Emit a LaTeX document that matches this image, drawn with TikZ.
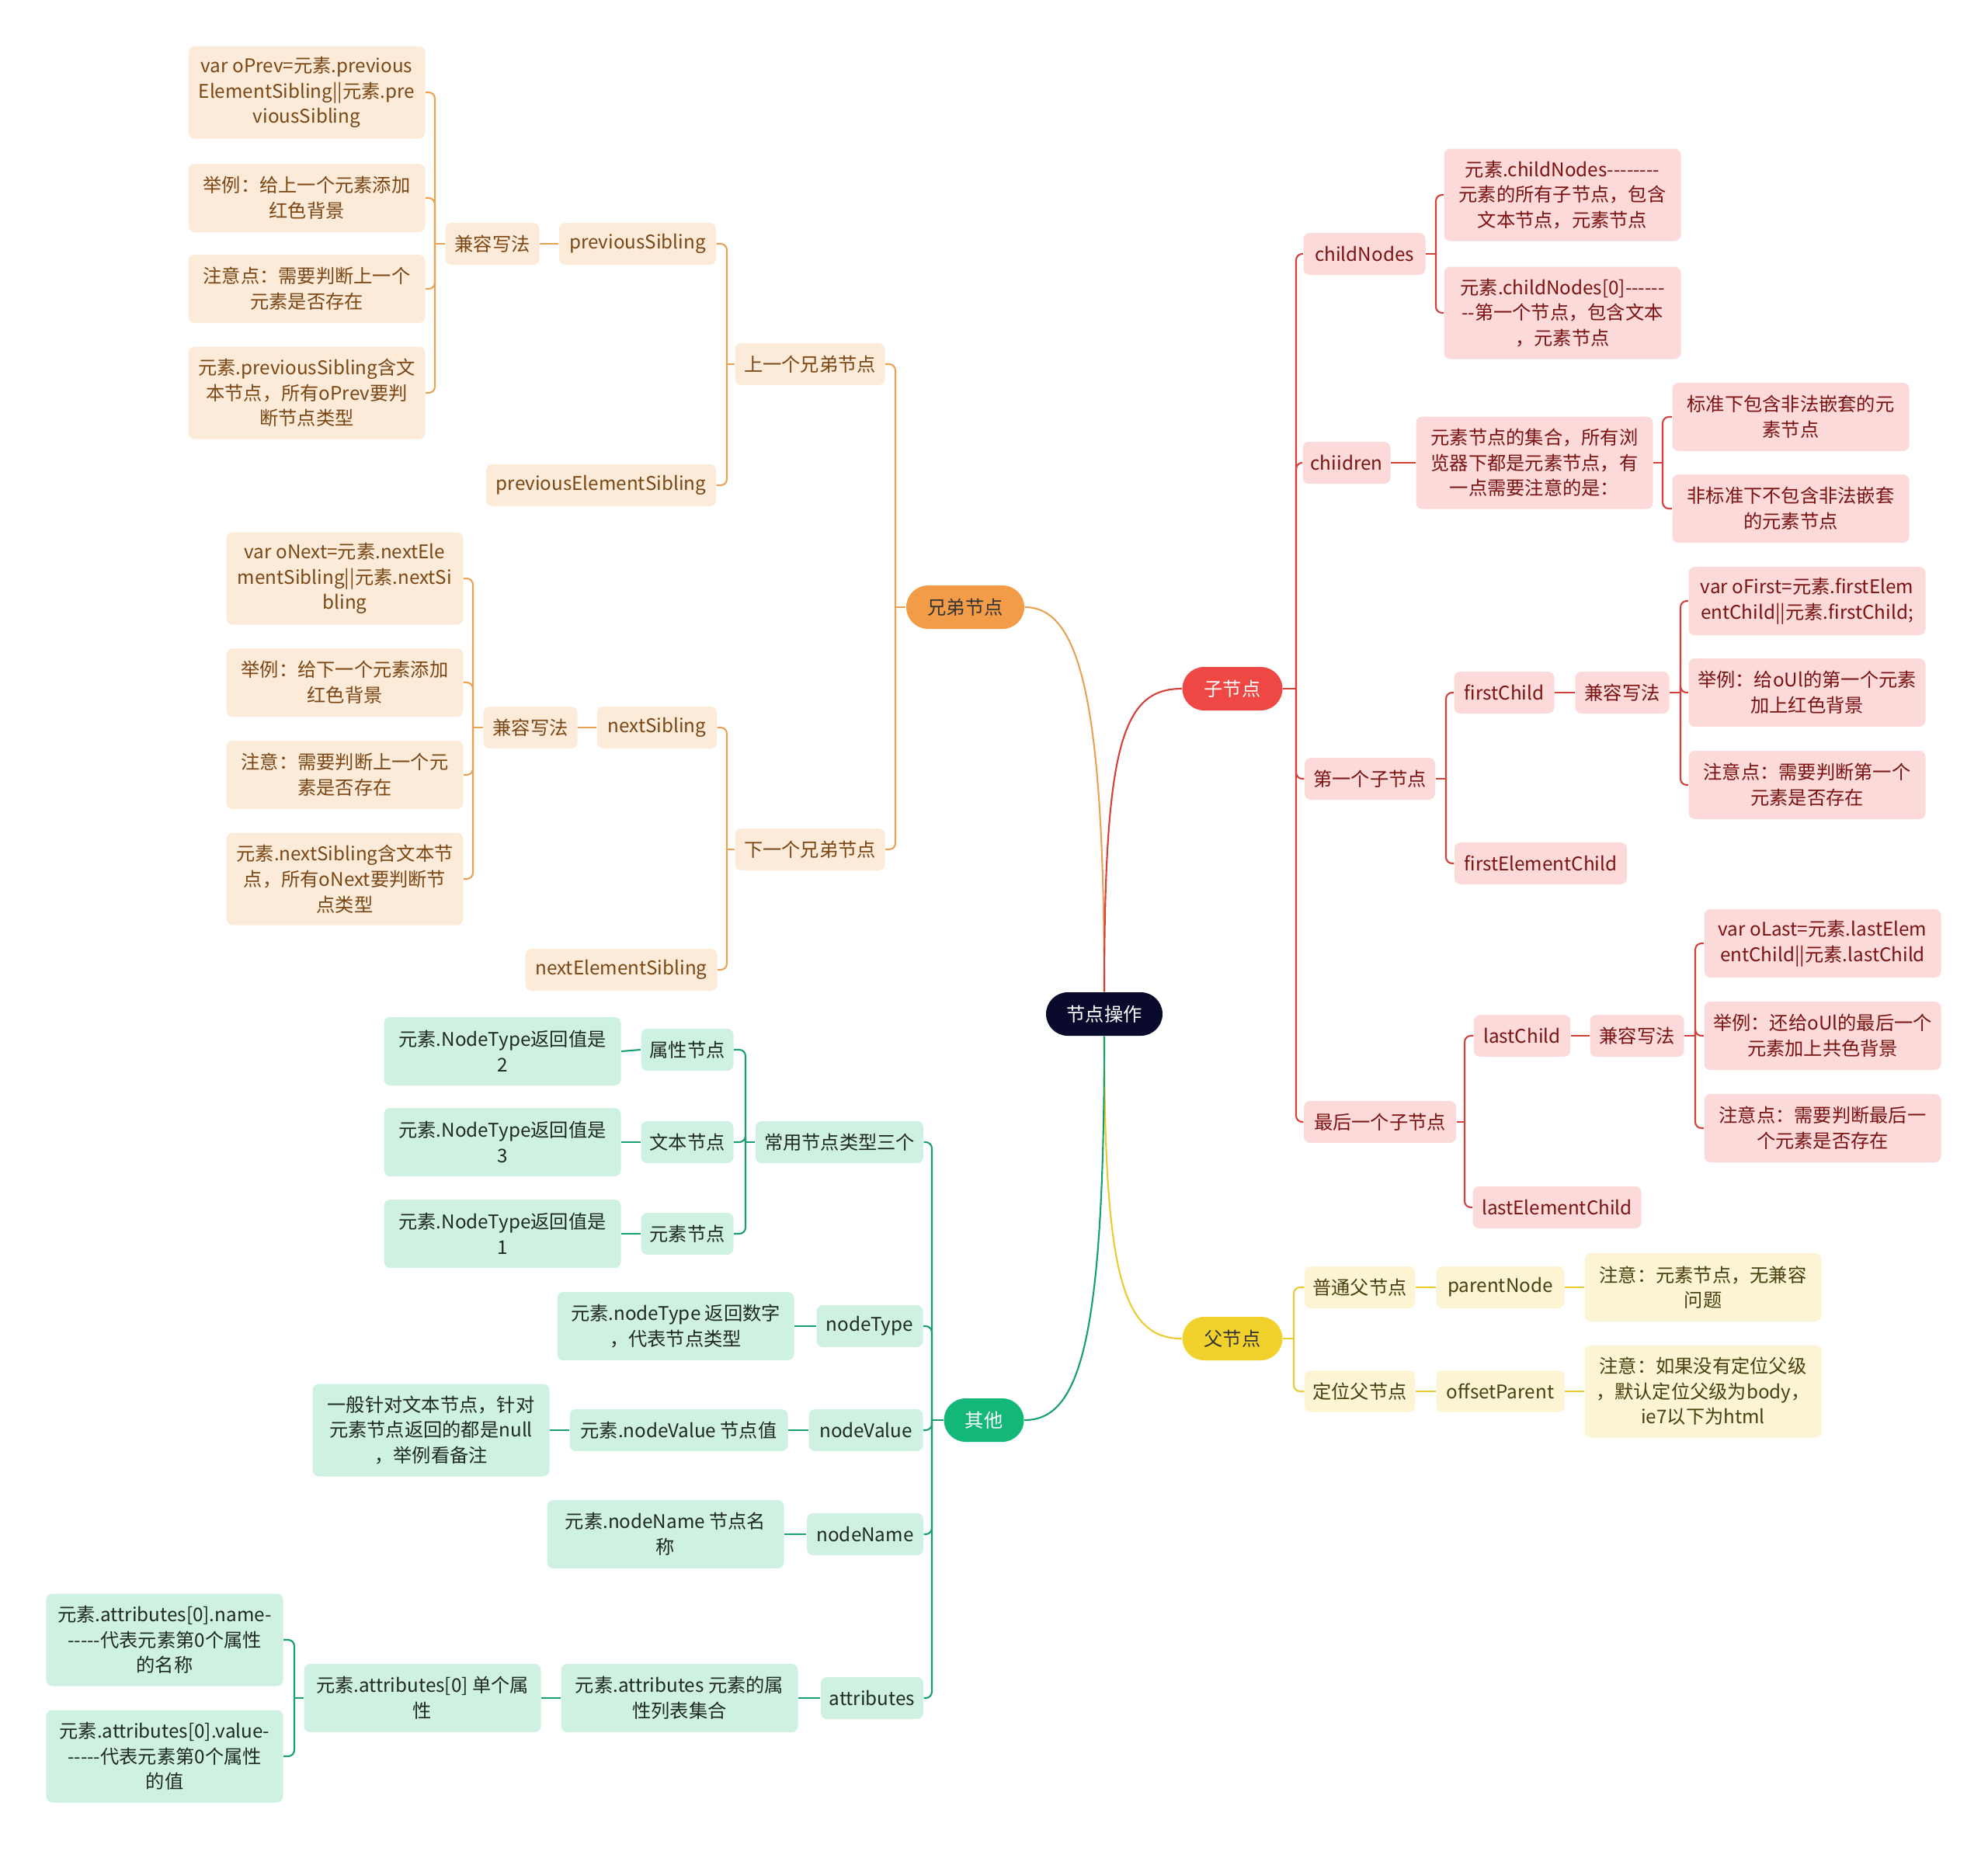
\documentclass[tikz,border=0pt]{standalone}
\usepackage{fontspec}
\setmainfont{Noto Sans CJK SC}[Ligatures=TeXOff]
\usepackage{xcolor}
\usepackage{tikz}

\definecolor{oLine}{HTML}{E9A254}
\definecolor{oFill}{HTML}{FDEBDA}
\definecolor{oText}{HTML}{7A4614}
\definecolor{oMain}{HTML}{F29C47}
\definecolor{rLine}{HTML}{D4413B}
\definecolor{rFill}{HTML}{FCDADA}
\definecolor{rText}{HTML}{7A1212}
\definecolor{rMain}{HTML}{EF4743}
\definecolor{yLine}{HTML}{EBCB30}
\definecolor{yFill}{HTML}{FCF4D3}
\definecolor{yText}{HTML}{4A3F0E}
\definecolor{yMain}{HTML}{F1D12B}
\definecolor{gLine}{HTML}{17A06E}
\definecolor{gFill}{HTML}{CEF1E1}
\definecolor{gText}{HTML}{1F2924}
\definecolor{gMain}{HTML}{13B777}
\definecolor{rootFill}{HTML}{0A0A2D}

\begin{document}
\begin{tikzpicture}[x=1cm, y=-1cm,
  box/.style={rectangle, rounded corners=0.08cm, align=center, inner xsep=2pt,
              inner ysep=0pt, minimum height=0.54cm,
              font=\fontsize{6.9}{9.3}\selectfont},
  two/.style={minimum height=0.88cm},
  three/.style={minimum height=1.19cm},
  wide/.style={minimum width=3.05cm},
  pill/.style={rectangle, rounded corners=0.28cm, minimum height=0.56cm,
               font=\fontsize{6.9}{9.3}\selectfont},
  obox/.style={box, fill=oFill, text=oText},
  rbox/.style={box, fill=rFill, text=rText},
  ybox/.style={box, fill=yFill, text=yText},
  gbox/.style={box, fill=gFill, text=gText},
  oline/.style={draw=oLine, line width=0.6pt, rounded corners=0.08cm},
  rline/.style={draw=rLine, line width=0.6pt, rounded corners=0.08cm},
  yline/.style={draw=yLine, line width=0.6pt, rounded corners=0.08cm},
  gline/.style={draw=gLine, line width=0.6pt, rounded corners=0.08cm}
]
  \useasboundingbox (0,0) rectangle (25.6,23.84);

  % Root and main branches
  \node[pill, fill=rootFill, text=white, minimum width=1.50cm] (root) at (14.22,13.06) {节点操作};
  \node[pill, fill=oMain, text=black!80, minimum width=1.52cm] (xd) at (12.43,7.82) {兄弟节点};
  \node[pill, fill=rMain, text=white, minimum width=1.29cm] (zi) at (15.87,8.87) {子节点};
  \node[pill, fill=yMain, text=black!80, minimum width=1.29cm] (fu) at (15.87,17.24) {父节点};
  \node[pill, fill=gMain, text=white, minimum width=1.03cm] (qt) at (12.67,18.29) {其他};

  \draw[oLine, line width=0.6pt] (root.north) .. controls (14.22,9.0) and (13.9,7.82) .. (xd.east);
  \draw[rLine, line width=0.6pt] (root.north) .. controls (14.22,9.6) and (14.45,8.87) .. (zi.west);
  \draw[yLine, line width=0.6pt] (root.south) .. controls (14.22,16.4) and (14.45,17.24) .. (fu.west);
  \draw[gLine, line width=0.6pt] (root.south) .. controls (14.22,17.3) and (13.9,18.29) .. (qt.east);

  % Brother nodes (orange)
  \node[obox, minimum width=1.93cm] (prev) at (10.43,4.69) {上一个兄弟节点};
  \node[obox, minimum width=1.93cm] (next) at (10.43,10.94) {下一个兄弟节点};
  \coordinate (xdbar) at (11.53,7.82);
  \draw[oline] (xd.west) -- (xdbar);
  \foreach \c in {prev, next}
    \draw[oline] (xdbar) |- (\c.east);

  \node[obox, minimum width=2.02cm] (psib) at (8.21,3.14) {previousSibling};
  \node[obox, minimum width=2.96cm] (pelem) at (7.74,6.25) {previousElementSibling};
  \coordinate (prevbar) at (9.36,4.69);
  \draw[oline] (prev.west) -- (prevbar);
  \foreach \c in {psib, pelem}
    \draw[oline] (prevbar) |- (\c.east);

  \node[obox, minimum width=1.21cm] (pcompat) at (6.34,3.14) {兼容写法};
  \draw[oline] (psib.west) -- (pcompat.east);
  \node[obox, wide, three] (pcode) at (3.95,1.19) {var oPrev=元素.previous\\ElementSibling||元素.pre\\viousSibling};
  \node[obox, wide, two] (pdemo) at (3.95,2.55) {举例：给上一个元素添加\\红色背景};
  \node[obox, wide, two] (pnote) at (3.95,3.72) {注意点：需要判断上一个\\元素是否存在};
  \node[obox, wide, three] (ptext) at (3.95,5.06) {元素.previousSibling含文\\本节点，所有oPrev要判\\断节点类型};
  \coordinate (pcbar) at (5.60,3.14);
  \draw[oline] (pcompat.west) -- (pcbar);
  \foreach \c in {pcode, pdemo, pnote, ptext}
    \draw[oline] (pcbar) |- (\c.east);

  \node[obox, minimum width=1.54cm] (nsib) at (8.46,9.37) {nextSibling};
  \node[obox, minimum width=2.47cm] (nelem) at (8.00,12.49) {nextElementSibling};
  \coordinate (nextbar) at (9.36,10.94);
  \draw[oline] (next.west) -- (nextbar);
  \foreach \c in {nsib, nelem}
    \draw[oline] (nextbar) |- (\c.east);

  \node[obox, minimum width=1.21cm] (ncompat) at (6.83,9.37) {兼容写法};
  \draw[oline] (nsib.west) -- (ncompat.east);
  \node[obox, wide, three] (ncode) at (4.44,7.45) {var oNext=元素.nextEle\\mentSibling||元素.nextSi\\bling};
  \node[obox, wide, two] (ndemo) at (4.44,8.79) {举例：给下一个元素添加\\红色背景};
  \node[obox, wide, two] (nnote) at (4.44,9.98) {注意：需要判断上一个元\\素是否存在};
  \node[obox, wide, three] (ntext) at (4.44,11.32) {元素.nextSibling含文本节\\点，所有oNext要判断节\\点类型};
  \coordinate (ncbar) at (6.09,9.37);
  \draw[oline] (ncompat.west) -- (ncbar);
  \foreach \c in {ncode, ndemo, nnote, ntext}
    \draw[oline] (ncbar) |- (\c.east);

  % Child nodes (red)
  \node[rbox, minimum width=1.57cm] (cnodes) at (17.57,3.27) {childNodes};
  \node[rbox, minimum width=1.13cm] (cdren) at (17.34,5.96) {chiidren};
  \node[rbox, minimum width=1.68cm] (cfirst) at (17.64,10.03) {第一个子节点};
  \node[rbox, minimum width=1.96cm] (clast) at (17.77,14.45) {最后一个子节点};
  \coordinate (zibar) at (16.69,8.87);
  \draw[rline] (zi.east) -- (zibar);
  \foreach \c in {cnodes, cdren, cfirst, clast}
    \draw[rline] (zibar) |- (\c.west);

  \node[rbox, wide, three] (cnall) at (20.12,2.51) {元素.childNodes--------\\元素的所有子节点，包含\\文本节点，元素节点};
  \node[rbox, wide, three] (cnzero) at (20.12,4.03) {元素.childNodes[0]------\\--第一个节点，包含文本\\，元素节点};
  \coordinate (cnbar) at (18.49,3.27);
  \draw[rline] (cnodes.east) -- (cnbar);
  \foreach \c in {cnall, cnzero}
    \draw[rline] (cnbar) |- (\c.west);

  \node[rbox, wide, three] (cdset) at (19.76,5.96) {元素节点的集合，所有浏\\览器下都是元素节点，有\\一点需要注意的是：};
  \draw[rline] (cdren.east) -- (cdset.west);
  \node[rbox, wide, two] (cdstd) at (23.06,5.37) {标准下包含非法嵌套的元\\素节点};
  \node[rbox, wide, two] (cdnon) at (23.06,6.55) {非标准下不包含非法嵌套\\的元素节点};
  \coordinate (cdbar) at (21.41,5.96);
  \draw[rline] (cdset.east) -- (cdbar);
  \foreach \c in {cdstd, cdnon}
    \draw[rline] (cdbar) |- (\c.west);

  \node[rbox, minimum width=1.29cm] (fchild) at (19.37,8.92) {firstChild};
  \node[rbox, minimum width=2.22cm] (felem) at (19.84,11.12) {firstElementChild};
  \coordinate (cfbar) at (18.62,10.03);
  \draw[rline] (cfirst.east) -- (cfbar);
  \foreach \c in {fchild, felem}
    \draw[rline] (cfbar) |- (\c.west);

  \node[rbox, minimum width=1.21cm] (fcompat) at (20.89,8.92) {兼容写法};
  \draw[rline] (fchild.east) -- (fcompat.west);
  \node[rbox, wide, two] (fcode) at (23.27,7.74) {var oFirst=元素.firstElem\\entChild||元素.firstChild;};
  \node[rbox, wide, two] (fdemo) at (23.27,8.92) {举例：给oUl的第一个元素\\加上红色背景};
  \node[rbox, wide, two] (fnote) at (23.27,10.11) {注意点：需要判断第一个\\元素是否存在};
  \coordinate (fcbar) at (21.64,8.92);
  \draw[rline] (fcompat.east) -- (fcbar);
  \foreach \c in {fcode, fdemo, fnote}
    \draw[rline] (fcbar) |- (\c.west);

  \node[rbox, minimum width=1.24cm] (lchild) at (19.60,13.34) {lastChild};
  \node[rbox, minimum width=2.17cm] (lelem) at (20.05,15.55) {lastElementChild};
  \coordinate (clbar) at (18.86,14.45);
  \draw[rline] (clast.east) -- (clbar);
  \foreach \c in {lchild, lelem}
    \draw[rline] (clbar) |- (\c.west);

  \node[rbox, minimum width=1.21cm] (lcompat) at (21.08,13.34) {兼容写法};
  \draw[rline] (lchild.east) -- (lcompat.west);
  \node[rbox, wide, two] (lcode) at (23.47,12.15) {var oLast=元素.lastElem\\entChild||元素.lastChild};
  \node[rbox, wide, two] (ldemo) at (23.47,13.34) {举例：还给oUl的最后一个\\元素加上共色背景};
  \node[rbox, wide, two] (lnote) at (23.47,14.53) {注意点：需要判断最后一\\个元素是否存在};
  \coordinate (lcbar) at (21.83,13.34);
  \draw[rline] (lcompat.east) -- (lcbar);
  \foreach \c in {lcode, ldemo, lnote}
    \draw[rline] (lcbar) |- (\c.west);

  % Parent nodes (yellow)
  \node[ybox, minimum width=1.42cm] (pnorm) at (17.51,16.58) {普通父节点};
  \node[ybox, minimum width=1.42cm] (ppos) at (17.51,17.92) {定位父节点};
  \coordinate (fubar) at (16.66,17.24);
  \draw[yline] (fu.east) -- (fubar);
  \foreach \c in {pnorm, ppos}
    \draw[yline] (fubar) |- (\c.west);

  \node[ybox, minimum width=1.65cm] (pnode) at (19.32,16.58) {parentNode};
  \node[ybox, wide, two] (pnnote) at (21.93,16.58) {注意：元素节点，无兼容\\问题};
  \draw[yline] (pnorm.east) -- (pnode.west);
  \draw[yline] (pnode.east) -- (pnnote.west);
  \node[ybox, minimum width=1.65cm] (opar) at (19.32,17.92) {offsetParent};
  \node[ybox, wide, three] (opnote) at (21.93,17.92) {注意：如果没有定位父级\\，默认定位父级为body，\\ie7以下为html};
  \draw[yline] (ppos.east) -- (opar.west);
  \draw[yline] (opar.east) -- (opnote.west);

  % Others (green)
  \node[gbox, minimum width=2.16cm] (types) at (10.81,14.71) {常用节点类型三个};
  \node[gbox, minimum width=1.37cm] (ntype) at (11.20,17.08) {nodeType};
  \node[gbox, minimum width=1.47cm] (nvalue) at (11.15,18.42) {nodeValue};
  \node[gbox, minimum width=1.50cm] (nname) at (11.14,19.76) {nodeName};
  \node[gbox, minimum width=1.32cm] (attrs) at (11.23,21.87) {attributes};
  \coordinate (qtbar) at (12.00,18.29);
  \draw[gline] (qt.west) -- (qtbar);
  \foreach \c in {types, ntype, nvalue, nname, attrs}
    \draw[gline] (qtbar) |- (\c.east);

  \node[gbox, minimum width=1.19cm] (tattr) at (8.85,13.52) {属性节点};
  \node[gbox, minimum width=1.19cm] (ttext) at (8.85,14.71) {文本节点};
  \node[gbox, minimum width=1.19cm] (telem) at (8.85,15.89) {元素节点};
  \coordinate (tybar) at (9.60,14.71);
  \draw[gline] (types.west) -- (tybar);
  \foreach \c in {tattr, ttext, telem}
    \draw[gline] (tybar) |- (\c.east);

  \node[gbox, wide, two] (vattr) at (6.47,13.54) {元素.NodeType返回值是\\2};
  \node[gbox, wide, two] (vtext) at (6.47,14.71) {元素.NodeType返回值是\\3};
  \node[gbox, wide, two] (velem) at (6.47,15.89) {元素.NodeType返回值是\\1};
  \draw[gline] (tattr.west) -- (vattr.east);
  \draw[gline] (ttext.west) -- (vtext.east);
  \draw[gline] (telem.west) -- (velem.east);

  \node[gbox, wide, two] (ntnote) at (8.70,17.08) {元素.nodeType 返回数字\\，代表节点类型};
  \draw[gline] (ntype.west) -- (ntnote.east);
  \node[gbox, minimum width=2.81cm] (nvnote) at (8.74,18.42) {元素.nodeValue 节点值};
  \node[gbox, wide, three] (nvmore) at (5.55,18.42) {一般针对文本节点，针对\\元素节点返回的都是null\\，举例看备注};
  \draw[gline] (nvalue.west) -- (nvnote.east);
  \draw[gline] (nvnote.west) -- (nvmore.east);
  \node[gbox, wide, two] (nnnote) at (8.57,19.76) {元素.nodeName 节点名\\称};
  \draw[gline] (nname.west) -- (nnnote.east);

  \node[gbox, wide, two] (atlist) at (8.75,21.87) {元素.attributes 元素的属\\性列表集合};
  \node[gbox, wide, two] (atone) at (5.44,21.87) {元素.attributes[0] 单个属\\性};
  \draw[gline] (attrs.west) -- (atlist.east);
  \draw[gline] (atlist.west) -- (atone.east);
  \node[gbox, wide, three] (atname) at (2.12,21.12) {元素.attributes[0].name-\\-----代表元素第0个属性\\的名称};
  \node[gbox, wide, three] (atvalue) at (2.12,22.62) {元素.attributes[0].value-\\-----代表元素第0个属性\\的值};
  \coordinate (atbar) at (3.79,21.87);
  \draw[gline] (atone.west) -- (atbar);
  \foreach \c in {atname, atvalue}
    \draw[gline] (atbar) |- (\c.east);
\end{tikzpicture}
\end{document}
